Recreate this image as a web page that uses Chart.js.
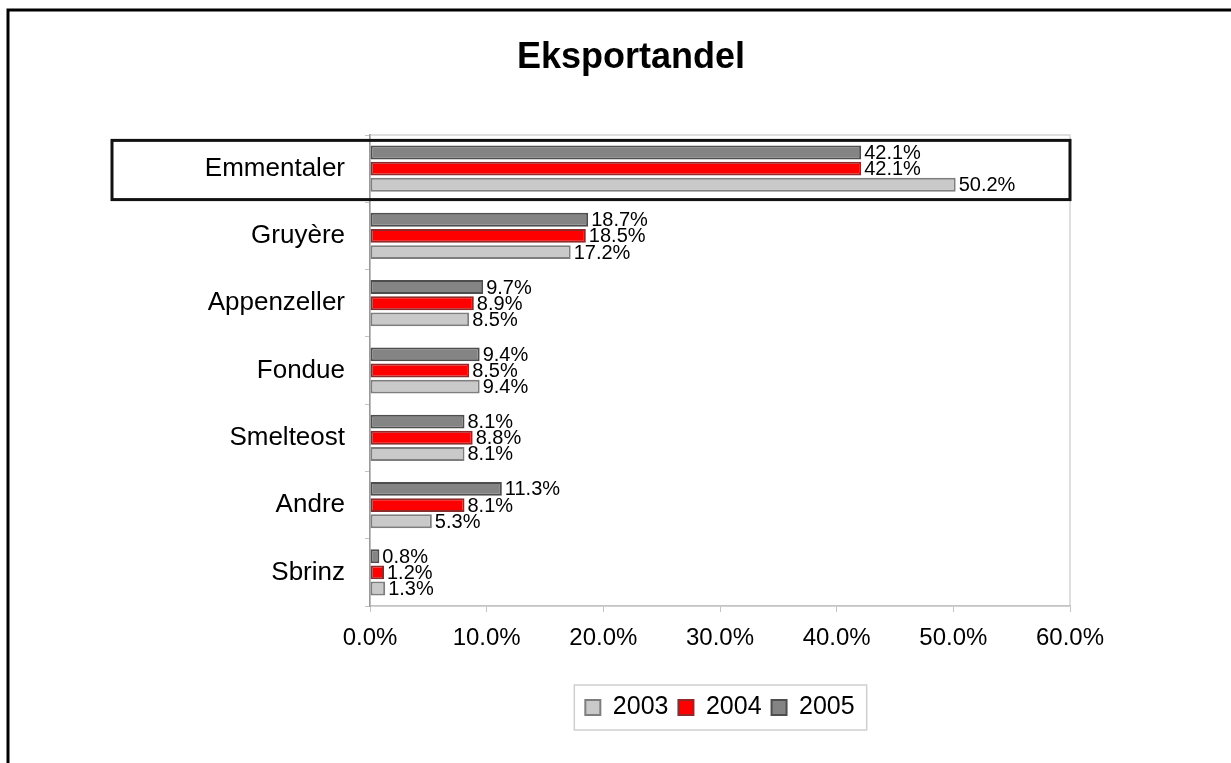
<!DOCTYPE html>
<html>
<head>
<meta charset="utf-8">
<title>Eksportandel</title>
<script src="https://cdn.jsdelivr.net/npm/chart.js@4/dist/chart.umd.min.js"></script>
<style>
  html, body { margin: 0; padding: 0; background: #fff; }
  #wrap { width: 1231px; height: 763px; position: relative; }
</style>
</head>
<body>
<div id="wrap"><canvas id="chart"></canvas></div>
<script>
// Eksportandel per ostetype, 2003-2005
const categories = ['Emmentaler', 'Gruyère', 'Appenzeller', 'Fondue', 'Smelteost', 'Andre', 'Sbrinz'];
const years = ['2005', '2004', '2003'];
const values2005 = [42.1, 18.7, 9.7, 9.4, 8.1, 11.3, 0.8];
const values2004 = [42.1, 18.5, 8.9, 8.5, 8.8, 8.1, 1.2];
const values2003 = [50.2, 17.2, 8.5, 9.4, 8.1, 5.3, 1.3];
const xTicks = [0, 10, 20, 30, 40, 50, 60];

const fills = { '2005': '#848484', '2004': '#ff0000', '2003': '#c9c9c9' };
const borders = { '2005': '#4e4e4e', '2004': '#8e2a2a', '2003': '#7e7e7e' };
const seriesValues = { '2005': values2005, '2004': values2004, '2003': values2003 };

function pct(v) { return v.toFixed(1) + '%'; }

// frame, title, plot border and the highlight around the first row
const decorations = {
  id: 'decorations',
  beforeDraw(chart) {
    const ctx = chart.ctx;
    ctx.save();
    ctx.fillStyle = '#fff';
    ctx.fillRect(0, 0, chart.width, chart.height);
    ctx.strokeStyle = '#000';
    ctx.lineWidth = 3;
    ctx.beginPath();
    ctx.moveTo(8, chart.height);
    ctx.lineTo(8, 10);
    ctx.lineTo(chart.width, 10);
    ctx.stroke();

    ctx.fillStyle = '#000';
    ctx.font = 'bold 36px Arial, "Liberation Sans", sans-serif';
    ctx.textAlign = 'center';
    ctx.textBaseline = 'middle';
    ctx.fillText('Eksportandel', 631, 58);

    const a = chart.chartArea;
    ctx.strokeStyle = '#d4d4d4';
    ctx.lineWidth = 1.5;
    ctx.strokeRect(a.left, a.top, a.right - a.left, a.bottom - a.top);
    ctx.restore();
  },
  afterDraw(chart) {
    const ctx = chart.ctx;
    const a = chart.chartArea;
    const y = chart.scales.y;
    const step = y.getPixelForValue(1) - y.getPixelForValue(0);
    const cy = y.getPixelForValue(0);
    ctx.save();
    ctx.strokeStyle = '#111';
    ctx.lineWidth = 3;
    ctx.strokeRect(112, cy - step * 0.42, a.right - 112, step * 0.88);

    // frame round the legend
    const lg = chart.legend;
    if (lg && lg.legendHitBoxes.length) {
      const hb = lg.legendHitBoxes;
      const l = hb[0].left - 11;
      const r = hb[hb.length - 1].left + hb[hb.length - 1].width + 12;
      const t = hb[0].top - 10;
      const b = hb[0].top + hb[0].height + 10;
      ctx.strokeStyle = '#cfcfcf';
      ctx.lineWidth = 1.5;
      ctx.strokeRect(l, t, r - l, b - t);
    }
    ctx.restore();
  }
};

// value labels at the end of each bar
const barLabels = {
  id: 'barLabels',
  afterDatasetsDraw(chart) {
    const ctx = chart.ctx;
    ctx.save();
    ctx.fillStyle = '#000';
    ctx.font = '20px Arial, "Liberation Sans", sans-serif';
    ctx.textAlign = 'left';
    ctx.textBaseline = 'middle';
    chart.data.datasets.forEach((ds, i) => {
      chart.getDatasetMeta(i).data.forEach((bar, j) => {
        ctx.fillText(pct(ds.data[j]), bar.x + 3, bar.y + 1);
      });
    });
    ctx.restore();
  }
};

const ctx = document.getElementById('chart').getContext('2d');
new Chart(ctx, {
  type: 'bar',
  data: {
    labels: categories,
    datasets: years.map(yr => ({
      label: yr,
      data: seriesValues[yr],
      backgroundColor: fills[yr],
      borderColor: borders[yr],
      borderWidth: 2,
      borderSkipped: false,
      categoryPercentage: 0.72,
      barPercentage: 0.86
    }))
  },
  options: {
    indexAxis: 'y',
    responsive: true,
    maintainAspectRatio: false,
    animation: false,
    layout: { padding: { left: 0, right: 161, top: 135, bottom: 33 } },
    plugins: {
      title: { display: false },
      tooltip: { enabled: false },
      legend: {
        position: 'bottom',
        fullSize: false,
        reverse: true,
        labels: {
          color: '#000',
          font: { family: 'Arial, "Liberation Sans", sans-serif', size: 25 },
          boxWidth: 15,
          boxHeight: 15,
          padding: 10
        }
      }
    },
    scales: {
      x: {
        min: 0,
        max: 60,
        afterBuildTicks(scale) { scale.ticks = xTicks.map(v => ({ value: v })); },
        afterFit(scale) { scale.height = 79; },
        grid: { drawOnChartArea: false, drawTicks: true, tickLength: 6, color: '#c4c4c4' },
        border: { display: true, color: '#c4c4c4', width: 1.5 },
        ticks: {
          color: '#000',
          padding: 12,
          maxRotation: 0,
          font: { family: 'Arial, "Liberation Sans", sans-serif', size: 24 },
          callback: v => pct(v)
        }
      },
      y: {
        afterFit(scale) { scale.width = 370; },
        grid: { drawOnChartArea: false, drawTicks: true, tickLength: 5, color: '#c4c4c4', offset: true },
        border: { display: true, color: '#9a9a9a', width: 1.5 },
        ticks: {
          color: '#000',
          padding: 20,
          font: { family: 'Arial, "Liberation Sans", sans-serif', size: 26 }
        }
      }
    }
  },
  plugins: [decorations, barLabels]
});
</script>
</body>
</html>
